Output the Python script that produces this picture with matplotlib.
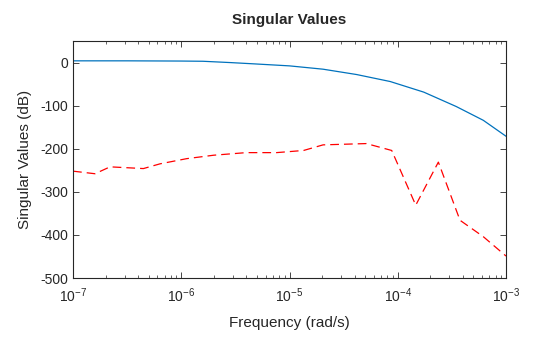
import matplotlib
matplotlib.use("Agg")
import matplotlib.pyplot as plt
import numpy as np

plt.rcParams['font.family'] = ['Liberation Sans', 'DejaVu Sans']
plt.rcParams['axes.unicode_minus'] = False

# upper singular value (dB) vs log10 frequency
sv1_logw = [-7.0, -6.5, -6.0, -5.8, -5.55, -5.33, -5.0, -4.69, -4.38, -4.07,
            -3.76, -3.46, -3.21, -3.0]
sv1_db = [4, 4, 3.5, 3, 0, -3, -7.7, -15.4, -27.8, -44, -68.6, -102, -134, -171]

# lower singular value (dB)
sv2_logw = [-7.0, -6.797, -6.658, -6.35, -6.196, -5.95, -5.70, -5.40, -5.12, -4.87,
            -4.69, -4.29, -4.056, -3.834, -3.625, -3.425, -3.21, -3.0]
sv2_db = [-252, -258, -242, -246, -235, -223, -215, -209, -209, -204,
          -191, -188, -204, -331, -231, -366, -404, -449]

text_col = '#262626'

fig = plt.figure(figsize=(5.6, 3.37), dpi=100)
ax = fig.add_axes([0.1304, 0.175, 0.7732, 0.7033])

ax.semilogx(10 ** np.array(sv1_logw), sv1_db, color='#0072BD', lw=0.9)
ax.semilogx(10 ** np.array(sv2_logw), sv2_db, color='red', lw=0.9,
            linestyle=(0, (7, 4)))

ax.set_xlim(1e-7, 1e-3)
ax.set_ylim(-500, 50)
ax.set_yticks([-500, -400, -300, -200, -100, 0])
ax.set_xticks([1e-7, 1e-6, 1e-5, 1e-4, 1e-3])

ax.tick_params(which='both', direction='in', top=True, right=True,
               labelsize=10, colors=text_col, labelcolor=text_col)
ax.tick_params(which='major', length=4, width=0.6)
ax.tick_params(which='minor', length=2, width=0.5)
ax.tick_params(axis='x', which='major', pad=6)
for s in ax.spines.values():
    s.set_color(text_col)
    s.set_linewidth(0.8)

ax.set_xlabel('Frequency (rad/s)', fontsize=11, color=text_col, labelpad=8)
ax.set_ylabel('Singular Values (dB)', fontsize=11, color=text_col, labelpad=6)
ax.set_title('Singular Values', fontsize=11, fontweight='bold', color=text_col, pad=12)

fig.savefig('out.png', dpi=100)
